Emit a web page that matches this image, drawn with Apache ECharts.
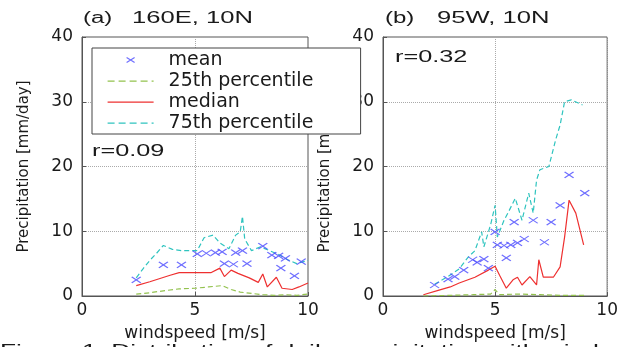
<!DOCTYPE html>
<html><head><meta charset="utf-8">
<script src="https://cdn.jsdelivr.net/npm/echarts@6/dist/echarts.min.js"></script>
<style>html,body{margin:0;padding:0;background:#fff}#c{width:621px;height:347px}</style>
</head><body><div id="c"></div>
<script>
// ---- data ----
const seriesNames = ['mean', '25th percentile', 'median', '75th percentile'];
const panelTitles = ['160E, 10N', '95W, 10N'];
const panelTags = ['(a)', '(b)'];
const corrLabels = ['r=0.09', 'r=0.32'];
const yTickMax = 40, yTickStep = 10, xTickMax = 10, xTickStep = 5;

// (a) 160E, 10N
const meanL_x = [2.4, 3.6, 4.4, 5.1, 5.5, 5.9, 6.2, 6.3, 6.7, 6.8, 7.1, 7.3, 8.0, 8.4, 8.7, 8.8, 9.0, 9.4, 9.7];
const meanL_y = [2.5, 4.8, 4.8, 6.5, 6.6, 6.7, 6.8, 5.0, 4.9, 6.7, 7.0, 5.0, 7.7, 6.3, 6.2, 4.3, 5.8, 3.1, 5.3];
const p25L_x = [2.4, 3.0, 3.6, 4.3, 5.0, 5.6, 6.2, 6.6, 7.0, 7.5, 8.0, 8.5, 9.0, 9.5, 10.0];
const p25L_y = [0.3, 0.5, 0.8, 1.1, 1.2, 1.4, 1.6, 1.0, 0.6, 0.4, 0.2, 0.1, 0.2, 0.1, 0.3];
const medL_x = [2.4, 3.0, 3.9, 4.3, 5.1, 5.7, 6.1, 6.3, 6.6, 6.9, 7.4, 7.8, 8.0, 8.2, 8.6, 8.85, 9.3, 9.6, 10.0];
const medL_y = [1.6, 2.2, 3.2, 3.6, 3.6, 3.6, 4.3, 3.0, 4.0, 3.5, 2.8, 2.1, 3.4, 1.4, 2.9, 1.2, 1.0, 1.4, 2.0];
const p75L_x = [2.4, 2.7, 3.0, 3.3, 3.6, 4.0, 4.4, 4.8, 5.1, 5.4, 5.8, 6.1, 6.5, 6.8, 7.0, 7.1, 7.2, 7.5, 7.9, 8.3, 8.7, 9.1, 9.5, 10.0];
const p75L_y = [2.8, 4.2, 5.5, 6.6, 7.8, 7.2, 7.0, 7.0, 7.0, 9.0, 9.4, 8.2, 7.3, 9.4, 9.9, 12.3, 8.8, 7.0, 7.6, 7.0, 6.4, 5.6, 5.0, 5.5];

// (b) 95W, 10N
const meanR_x = [2.3, 2.9, 3.2, 3.6, 4.0, 4.2, 4.5, 4.7, 5.0, 5.1, 5.4, 5.5, 5.7, 5.85, 6.0, 6.3, 6.7, 7.2, 7.5, 7.9, 8.3, 9.0];
const meanR_y = [1.7, 2.6, 3.0, 4.0, 5.6, 5.2, 5.7, 4.3, 9.9, 7.9, 7.8, 5.9, 7.9, 11.4, 8.2, 8.8, 11.7, 8.3, 11.4, 14.0, 18.7, 15.9];
const p25R_x = [1.8, 3.0, 4.0, 4.8, 5.0, 5.2, 6.0, 7.0, 8.0, 9.0];
const p25R_y = [0.0, 0.1, 0.2, 0.3, 1.0, 0.2, 0.3, 0.2, 0.1, 0.1];
const medR_x = [1.8, 2.5, 3.0, 3.4, 4.1, 4.7, 5.0, 5.2, 5.5, 5.8, 6.0, 6.2, 6.55, 6.85, 6.95, 7.15, 7.6, 7.9, 8.1, 8.3, 8.6, 8.95];
const medR_y = [0.2, 0.9, 1.4, 2.0, 2.9, 4.0, 4.6, 3.2, 1.2, 2.5, 2.9, 1.7, 3.0, 1.7, 5.6, 2.9, 2.9, 4.5, 9.1, 14.8, 12.8, 7.9];
const p75R_x = [2.3, 2.9, 3.4, 3.8, 4.1, 4.4, 4.5, 4.8, 5.0, 5.1, 5.4, 5.6, 5.9, 6.2, 6.5, 6.7, 6.85, 7.0, 7.4, 7.7, 7.9, 8.1, 8.4, 8.9];
const p75R_y = [1.8, 3.0, 4.2, 6.0, 7.0, 9.9, 7.6, 11.0, 14.0, 9.1, 11.7, 13.0, 15.1, 11.7, 15.9, 12.8, 17.9, 19.5, 20.0, 24.1, 26.4, 30.0, 30.3, 29.5];

const caption = 'Figure 1: Distribution of daily precipitation with windspeed';

// ---- styles ----
const C_MEAN = '#4a4aff', C_P25 = '#93c24e', C_MED = '#ee3030', C_P75 = '#2fc4bf';
const FONT = 'DejaVu Sans';
const INK = '#1a1a1a';
const zip = (xs, ys) => xs.map((x, i) => [x, ys[i]]);

function xAx(g) {
  return {
    type: 'value', gridIndex: g, min: 0, max: xTickMax, interval: xTickStep,
    axisLine: { show: true, lineStyle: { color: '#555', width: 1 } },
    axisTick: { show: true, inside: true, length: 4, lineStyle: { color: '#555' } },
    splitLine: { show: true, lineStyle: { type: 'dotted', color: '#aaa', width: 1 } },
    axisLabel: { fontFamily: FONT, fontSize: 17, color: INK, margin: 6 },
    name: 'windspeed [m/s]', nameLocation: 'middle', nameGap: 29,
    nameTextStyle: { fontFamily: FONT, fontSize: 17, color: INK }
  };
}
function yAx(g) {
  return {
    type: 'value', gridIndex: g, min: 0, max: yTickMax, interval: yTickStep,
    axisLine: { show: true, lineStyle: { color: '#555', width: 1 } },
    axisTick: { show: true, inside: true, length: 4, lineStyle: { color: '#555' } },
    splitLine: { show: true, lineStyle: { type: 'dotted', color: '#aaa', width: 1 } },
    axisLabel: { fontFamily: FONT, fontSize: 17, color: INK, margin: 9 },
    name: 'Precipitation [mm/day]', nameLocation: 'middle', nameGap: 50, nameRotate: 90,
    nameTextStyle: { fontFamily: FONT, fontSize: 15, color: INK }
  };
}
const xPath = 'path://M0,0L10,7M10,0L0,7';
function meanS(g, xs, ys) {
  return { name: seriesNames[0], type: 'scatter', xAxisIndex: g, yAxisIndex: g, data: zip(xs, ys),
    symbol: xPath, symbolSize: [9, 6],
    itemStyle: { color: 'rgba(0,0,0,0)', borderColor: C_MEAN, borderWidth: 1.2 }, z: 4 };
}
function lineS(g, name, xs, ys, color, dashed) {
  return { name: name, type: 'line', xAxisIndex: g, yAxisIndex: g, data: zip(xs, ys),
    symbol: 'none', showSymbol: false, color: color,
    lineStyle: { color: color, width: 1.2, type: dashed ? [5, 3] : 'solid' }, z: 3 };
}
const dashIcon = 'path://M0,0M46,14M0,6.4h7v1.3h-7zM11,6.4h7v1.3h-7zM22,6.4h7v1.3h-7zM33,6.4h7v1.3h-7zM44,6.4h2v1.3h-2z';
const solidIcon = 'path://M0,0M46,14M0,6.4h46v1.3h-46z';
const markIcon = 'path://M0,0M46,14M19,4.5L27,9.5M27,4.5L19,9.5';

const TF = '16px "Liberation Sans"';
function txt(x, y, s, font, sx) {
  return { type: 'text', x: x, y: y, scaleX: sx, z: 20,
    style: { text: s, font: font, fill: INK, verticalAlign: 'middle', align: 'left' } };
}

const option = {
  animation: false,
  backgroundColor: '#fff',
  grid: [
    { left: 82, top: 37, width: 226, height: 259, show: true, borderColor: '#555', borderWidth: 1, backgroundColor: 'transparent' },
    { left: 383, top: 37, width: 229, height: 259, show: true, borderColor: '#555', borderWidth: 1, backgroundColor: 'transparent' }
  ],
  xAxis: [xAx(0), xAx(1)],
  yAxis: [yAx(0), yAx(1)],
  legend: {
    left: 92, top: 48, orient: 'vertical', selectedMode: false,
    padding: [2, 32, 1, 15], itemGap: 1, itemWidth: 46, itemHeight: 14,
    backgroundColor: '#fff', borderColor: '#444', borderWidth: 1, z: 10,
    textStyle: { fontFamily: FONT, fontSize: 19, color: INK, lineHeight: 20, width: 160, padding: [0, 0, 0, 10] },
    data: [
      { name: seriesNames[0], icon: markIcon, itemStyle: { color: 'rgba(0,0,0,0)', borderColor: C_MEAN, borderWidth: 1.2 } },
      { name: seriesNames[1], icon: dashIcon, itemStyle: { color: C_P25, borderWidth: 0 } },
      { name: seriesNames[2], icon: solidIcon, itemStyle: { color: C_MED, borderWidth: 0 } },
      { name: seriesNames[3], icon: dashIcon, itemStyle: { color: C_P75, borderWidth: 0 } }
    ]
  },
  series: [
    lineS(0, seriesNames[1], p25L_x, p25L_y, C_P25, true),
    lineS(0, seriesNames[3], p75L_x, p75L_y, C_P75, true),
    lineS(0, seriesNames[2], medL_x, medL_y, C_MED, false),
    meanS(0, meanL_x, meanL_y),
    lineS(1, seriesNames[1], p25R_x, p25R_y, C_P25, true),
    lineS(1, seriesNames[3], p75R_x, p75R_y, C_P75, true),
    lineS(1, seriesNames[2], medR_x, medR_y, C_MED, false),
    meanS(1, meanR_x, meanR_y)
  ],
  graphic: [
    txt(83, 19, panelTags[0], TF, 1.5),
    txt(132, 19, panelTitles[0], TF, 1.6),
    txt(385, 19, panelTags[1], TF, 1.5),
    txt(437, 19, panelTitles[1], TF, 1.6),
    txt(92, 152, corrLabels[0], TF, 1.58),
    txt(395, 58, corrLabels[1], TF, 1.58),
    { type: 'text', x: 0, y: 343, scaleX: 1.55, z: 20,
      style: { text: caption, font: '17px "Liberation Sans"', fill: INK, verticalAlign: 'top', align: 'left' } }
  ]
};
const chart = echarts.init(document.getElementById('c'), null, { renderer: 'canvas' });
chart.setOption(option);
</script></body></html>
